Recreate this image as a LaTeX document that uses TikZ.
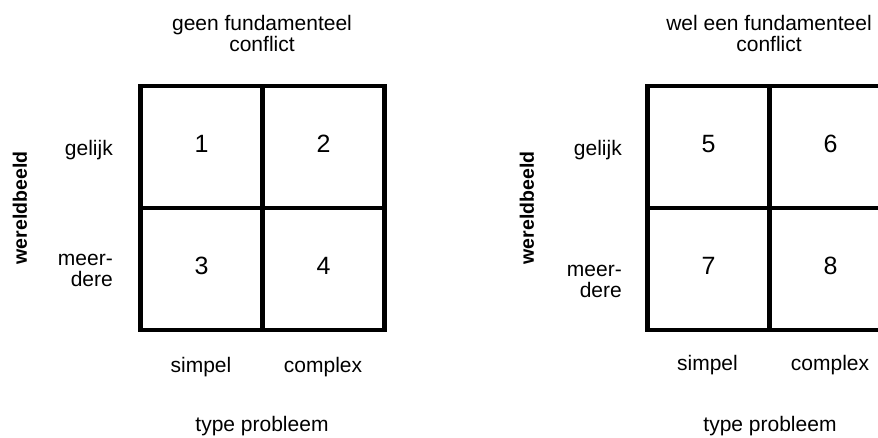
\documentclass[tikz,border=0pt]{standalone}
\usepackage{fontspec}
\setmainfont{Liberation Sans}
\begin{document}
\begin{tikzpicture}[x=1pt, y=-1pt,
  cell/.style={draw, line width=4.5pt, rectangle, inner sep=0pt, outer sep=0pt,
    minimum width=122pt, minimum height=122pt, text depth=5pt,
    font=\fontsize{25}{25}\selectfont},
  lbl/.style={inner sep=0pt, font=\fontsize{21}{21}\selectfont},
  axis/.style={inner sep=0pt, rotate=90, font=\fontsize{19.5}{19.5}\selectfont\bfseries}]
\clip (0,0) rectangle (878,437);

% left matrix: no fundamental conflict
\node[lbl, align=center] (t1) at (262,33.5) {geen fundamenteel\\conflict};
\node[cell] (c1) at (201.5,146.75) {1};
\node[cell] (c2) at (323.5,146.75) {2};
\node[cell] (c3) at (201.5,268.75) {3};
\node[cell] (c4) at (323.5,268.75) {4};
\node[lbl, anchor=base east] (g1) at (113,155) {gelijk};
\node[lbl, anchor=east, align=right] (m1) at (113,270) {meer-\\dere};
\node[axis] (w1) at (20,208) {wereldbeeld};
\node[lbl, anchor=base] (s1) at (201,372) {simpel};
\node[lbl, anchor=base] (x1) at (323,372) {complex};
\node[lbl, anchor=base] (p1) at (262,431) {type probleem};

% right matrix: a fundamental conflict
\node[lbl, align=center] (t2) at (769,33.5) {wel een fundamenteel\\conflict};
\node[cell] (c5) at (708.5,146.75) {5};
\node[cell] (c6) at (830.5,146.75) {6};
\node[cell] (c7) at (708.5,268.75) {7};
\node[cell] (c8) at (830.5,268.75) {8};
\node[lbl, anchor=base east] (g2) at (622,155) {gelijk};
\node[lbl, anchor=east, align=right] (m2) at (622,281) {meer-\\dere};
\node[axis] (w2) at (527,208) {wereldbeeld};
\node[lbl, anchor=base] (s2) at (707.5,370.5) {simpel};
\node[lbl, anchor=base] (x2) at (830,370.5) {complex};
\node[lbl, anchor=base] (p2) at (770,431) {type probleem};
\end{tikzpicture}
\end{document}
